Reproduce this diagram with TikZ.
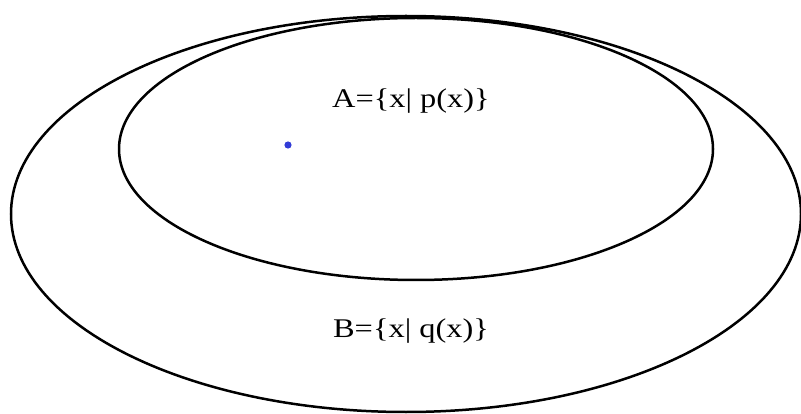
\documentclass[tikz,border=0pt]{standalone}
\usepackage{fontspec}
\setmainfont{Liberation Serif}
\usepackage{graphicx}
\definecolor{dotblue}{RGB}{50,60,215}
\begin{document}
\begin{tikzpicture}[x=1pt,y=-1pt,
  setline/.style={draw=black,line width=2.5pt},
  setlabel/.style={inner sep=0pt,font=\fontsize{27}{32}\selectfont}]
\useasboundingbox (0,0) rectangle (801,414);
\draw[setline] (406,214) ellipse [x radius=395, y radius=198];
\draw[setline] (416,149) ellipse [x radius=297, y radius=131];
\fill[dotblue] (288,145) circle (3.6);
\node[setlabel] (A) at (411,101) {\scalebox{1.2}[1]{A=\{x| p(x)\}}};
\node[setlabel] (B) at (411,331) {\scalebox{1.2}[1]{B=\{x| q(x)\}}};
\end{tikzpicture}
\end{document}
